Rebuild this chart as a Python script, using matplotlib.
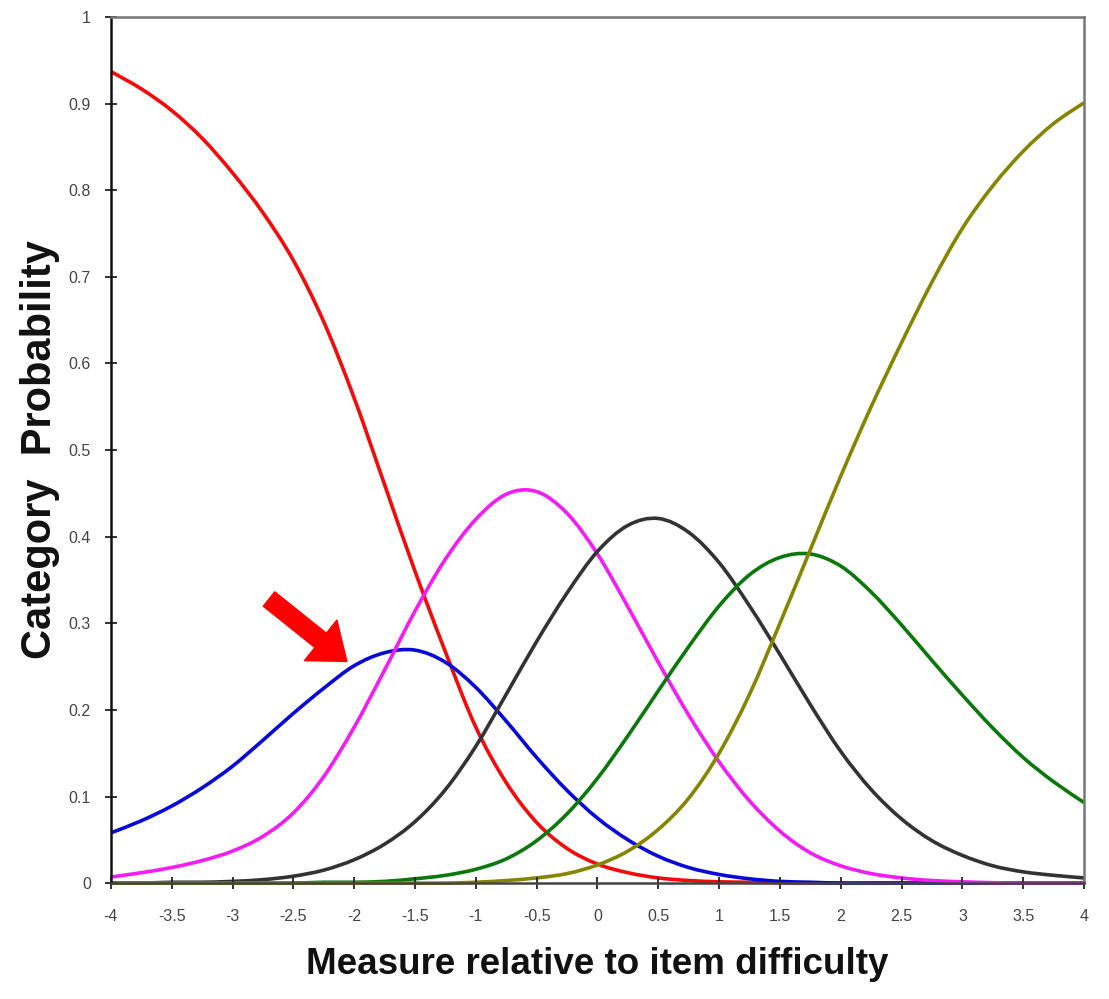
import matplotlib
matplotlib.use("Agg")
import matplotlib.pyplot as plt
from matplotlib.path import Path
from matplotlib.patches import PathPatch

# measure (logits) and category probability curves
x = [-4, -3.75, -3.5, -3.25, -3, -2.75, -2.5, -2.25, -2, -1.75, -1.5, -1.25, -1,
     -0.75, -0.5, -0.25, 0, 0.25, 0.5, 0.75, 1, 1.25, 1.5, 1.75, 2, 2.25, 2.5,
     2.75, 3, 3.25, 3.5, 3.75, 4]

cat0 = [0.937, 0.917, 0.892, 0.860, 0.820, 0.774, 0.719, 0.648, 0.560, 0.460, 0.360,
        0.267, 0.180, 0.116, 0.070, 0.040, 0.022, 0.012, 0.006, 0.003, 0.0015, 0.001,
        0.0005, 0, 0, 0, 0, 0, 0, 0, 0, 0, 0]
cat1 = [0.058, 0.072, 0.089, 0.110, 0.135, 0.165, 0.196, 0.225, 0.251, 0.266, 0.269,
        0.255, 0.226, 0.187, 0.145, 0.107, 0.075, 0.050, 0.031, 0.018, 0.010, 0.005,
        0.002, 0.001, 0, 0, 0, 0, 0, 0, 0, 0, 0]
cat2 = [0.007, 0.012, 0.018, 0.026, 0.037, 0.054, 0.081, 0.123, 0.180, 0.246, 0.314,
        0.374, 0.420, 0.449, 0.452, 0.427, 0.380, 0.319, 0.255, 0.194, 0.140, 0.095,
        0.060, 0.035, 0.020, 0.011, 0.006, 0.003, 0.0015, 0.0005, 0, 0, 0]
cat3 = [0, 0, 0.001, 0.001, 0.002, 0.004, 0.008, 0.015, 0.027, 0.045, 0.071, 0.108,
        0.158, 0.218, 0.279, 0.335, 0.383, 0.413, 0.421, 0.405, 0.370, 0.320, 0.264,
        0.206, 0.152, 0.108, 0.074, 0.049, 0.032, 0.020, 0.013, 0.009, 0.006]
cat4 = [0, 0, 0, 0, 0, 0, 0, 0.001, 0.001, 0.002, 0.005, 0.009, 0.016, 0.028, 0.049,
        0.080, 0.121, 0.170, 0.222, 0.273, 0.320, 0.356, 0.376, 0.380, 0.366, 0.336,
        0.298, 0.257, 0.217, 0.179, 0.145, 0.117, 0.093]
cat5 = [0, 0, 0, 0, 0, 0, 0, 0, 0, 0, 0, 0, 0.001, 0.003, 0.006, 0.011, 0.021, 0.037,
        0.062, 0.098, 0.150, 0.218, 0.300, 0.385, 0.470, 0.550, 0.624, 0.694, 0.756,
        0.805, 0.845, 0.877, 0.901]

curves = [cat0, cat1, cat2, cat3, cat4, cat5]
colors = ["#f50a0a", "#0808d8", "#f41cf4", "#333333", "#0a780a", "#858500"]

xticks = [-4, -3.5, -3, -2.5, -2, -1.5, -1, -0.5, 0, 0.5, 1, 1.5, 2, 2.5, 3, 3.5, 4]
xticklabels = ["-4", "-3.5", "-3", "-2.5", "-2", "-1.5", "-1", "-0.5", "0", "0.5",
               "1", "1.5", "2", "2.5", "3", "3.5", "4"]
yticks = [0, 0.1, 0.2, 0.3, 0.4, 0.5, 0.6, 0.7, 0.8, 0.9, 1]
yticklabels = ["0", "0.1", "0.2", "0.3", "0.4", "0.5", "0.6", "0.7", "0.8", "0.9", "1"]


def smooth_path(xs, ys):
    # excel-style smoothed line: bezier segments through the read points
    pts = list(zip(xs, ys))
    verts = [pts[0]]
    codes = [Path.MOVETO]
    n = len(pts)
    for i in range(n - 1):
        p0 = pts[i - 1] if i > 0 else pts[i]
        p1 = pts[i]
        p2 = pts[i + 1]
        p3 = pts[i + 2] if i + 2 < n else pts[i + 1]
        c1 = (p1[0] + (p2[0] - p0[0]) / 6, p1[1] + (p2[1] - p0[1]) / 6)
        c2 = (p2[0] - (p3[0] - p1[0]) / 6, p2[1] - (p3[1] - p1[1]) / 6)
        verts += [c1, c2, p2]
        codes += [Path.CURVE4] * 3
    return Path(verts, codes)


fig = plt.figure(figsize=(11.09, 9.99), dpi=100)
ax = fig.add_axes([0.100, 0.116, 0.8775, 0.867])

for yy, c in zip(curves, colors):
    ax.add_patch(PathPatch(smooth_path(x, yy), fill=False, edgecolor=c, lw=2.6,
                           clip_on=False, capstyle="butt"))

ax.set_xlim(-4, 4)
ax.set_ylim(0, 1)

tickfont = dict(family=["Liberation Sans", "DejaVu Sans"], size=11.5, color="#444444")
ax.set_xticks(xticks)
ax.set_xticklabels(xticklabels, fontdict=tickfont)
ax.set_yticks(yticks)
ax.set_yticklabels(yticklabels, fontdict=tickfont)
ax.tick_params(axis="both", direction="inout", length=9, width=1.3, color="#222222")
ax.tick_params(axis="x", pad=14)
ax.tick_params(axis="y", pad=10)

ax.spines["left"].set_color("#111111")
ax.spines["bottom"].set_color("#444444")
ax.spines["top"].set_color("#777777")
ax.spines["right"].set_color("#777777")
for s in ax.spines.values():
    s.set_linewidth(1.8)

labfont = dict(family=["Liberation Sans", "DejaVu Sans"], weight="bold", color="#111111")
ax.set_xlabel("Measure relative to item difficulty", fontsize=26.5, va="center", **labfont)
ax.xaxis.set_label_coords(0.5, -0.094)
ax.set_ylabel("Category  Probability", fontsize=30, va="center", **labfont)
ax.yaxis.set_label_coords(-0.073, 0.5)

# arrow pointing at the category that is never most probable
ax.annotate("", xy=(-2.06, 0.256), xytext=(-2.70, 0.328),
            arrowprops=dict(arrowstyle="simple,head_length=1.1,head_width=1.7,tail_width=0.6",
                            color="#ff0000", mutation_scale=22, shrinkA=0, shrinkB=0))

fig.savefig("out.png", dpi=100)
